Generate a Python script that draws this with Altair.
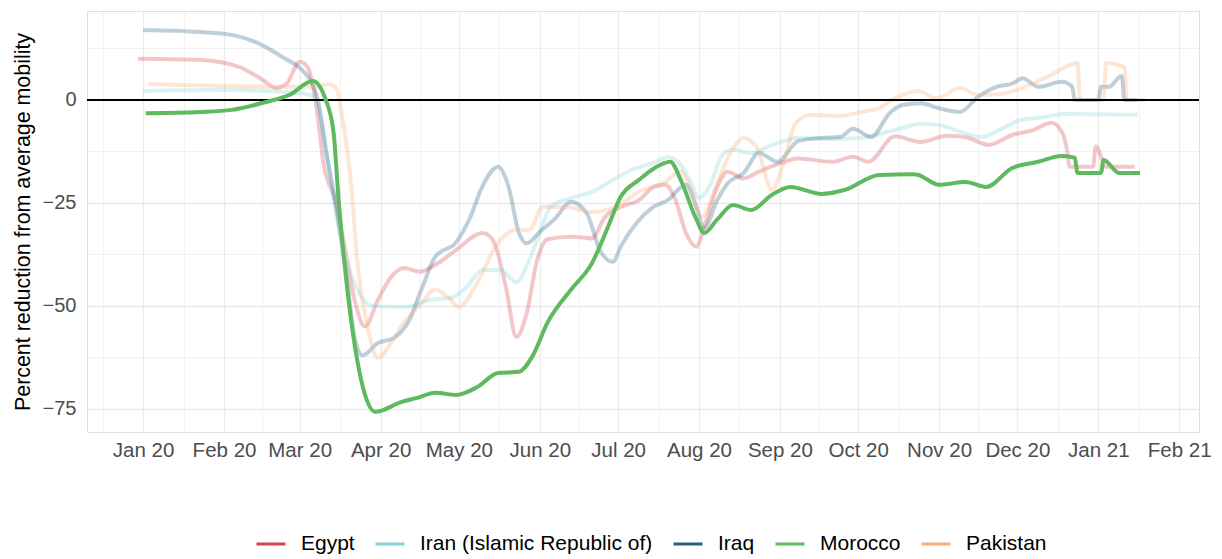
import altair as alt
import pandas as pd

countries = ["Egypt", "Iran (Islamic Republic of)", "Iraq", "Morocco", "Pakistan"]
colors = ["#D6454F", "#82D3DA", "#2C5F80", "#5EB95F", "#FCAD78"]

egypt_dates = ["2019-12-30", "2020-01-23", "2020-02-07", "2020-02-16", "2020-02-21", "2020-02-25",
               "2020-03-01", "2020-03-04", "2020-03-07", "2020-03-09", "2020-03-10", "2020-03-12",
               "2020-03-14", "2020-03-18", "2020-03-22", "2020-03-26", "2020-03-31", "2020-04-05",
               "2020-04-10", "2020-04-16", "2020-04-22", "2020-04-30", "2020-05-10", "2020-05-14",
               "2020-05-19", "2020-05-23", "2020-05-27", "2020-05-31", "2020-06-04", "2020-06-13",
               "2020-06-21", "2020-06-26", "2020-07-02", "2020-07-09", "2020-07-15", "2020-07-19",
               "2020-07-23", "2020-07-27", "2020-07-31", "2020-08-03", "2020-08-08", "2020-08-12",
               "2020-08-18", "2020-08-24", "2020-09-01", "2020-09-08", "2020-09-21", "2020-09-29",
               "2020-10-05", "2020-10-15", "2020-10-25", "2020-11-04", "2020-11-11", "2020-11-20",
               "2020-11-29", "2020-12-07", "2020-12-14", "2020-12-18", "2020-12-20", "2020-12-21",
               "2020-12-30", "2020-12-31", "2021-01-04", "2021-01-15"]
egypt_values = [10.0, 9.7, 8.0, 4.8, 2.9, 4.0,
                9.3, 8.0, 0.0, -9.7, -15.0, -20.0,
                -23.0, -34.8, -48.5, -55.0, -48.5, -43.0,
                -40.8, -41.7, -40.0, -36.4, -32.3, -34.0,
                -45.4, -57.5, -51.7, -38.8, -33.8, -33.2,
                -33.6, -28.4, -26.0, -24.3, -21.0, -20.6,
                -24.3, -32.3, -35.6, -30.8, -21.0, -17.4,
                -19.0, -17.4, -15.4, -14.2, -15.0, -13.8,
                -15.0, -8.8, -10.2, -8.7, -9.0, -10.9,
                -8.5, -7.3, -5.5, -7.7, -12.0, -16.2,
                -16.2, -11.3, -16.2, -16.2]

iran_dates = ["2020-01-01", "2020-02-01", "2020-03-01", "2020-03-06", "2020-03-09", "2020-03-12",
              "2020-03-15", "2020-03-19", "2020-03-23", "2020-03-28", "2020-04-05", "2020-04-11",
              "2020-04-20", "2020-04-28", "2020-05-04", "2020-05-10", "2020-05-17", "2020-05-23",
              "2020-05-28", "2020-06-02", "2020-06-05", "2020-06-13", "2020-06-21", "2020-06-29",
              "2020-07-06", "2020-07-14", "2020-07-20", "2020-07-24", "2020-07-29", "2020-08-01",
              "2020-08-05", "2020-08-10", "2020-08-14", "2020-08-21", "2020-08-29", "2020-09-08",
              "2020-09-20", "2020-10-02", "2020-10-15", "2020-10-25", "2020-11-01", "2020-11-09",
              "2020-11-17", "2020-11-24", "2020-12-02", "2020-12-12", "2020-12-18", "2021-01-16"]
iran_values = [2.2, 2.4, 1.7, 1.0, -4.0, -16.0,
               -28.0, -39.0, -46.0, -49.8, -50.2, -50.2,
               -48.5, -48.0, -45.4, -41.3, -41.3, -44.2,
               -38.8, -30.5, -26.0, -23.8, -22.3, -19.4,
               -17.0, -15.4, -13.9, -15.0, -20.2, -23.8,
               -21.0, -13.3, -12.1, -12.9, -10.9, -9.2,
               -9.5, -9.2, -7.3, -5.8, -6.1, -7.7,
               -9.0, -7.3, -4.9, -4.1, -3.4, -3.6]

iraq_dates = ["2020-01-01", "2020-01-23", "2020-02-04", "2020-02-14", "2020-02-24", "2020-03-01",
              "2020-03-05", "2020-03-08", "2020-03-11", "2020-03-15", "2020-03-19", "2020-03-22",
              "2020-03-25", "2020-03-31", "2020-04-06", "2020-04-12", "2020-04-17", "2020-04-22",
              "2020-04-30", "2020-05-05", "2020-05-10", "2020-05-16", "2020-05-20", "2020-05-24",
              "2020-05-27", "2020-06-01", "2020-06-07", "2020-06-13", "2020-06-19", "2020-06-24",
              "2020-06-29", "2020-07-02", "2020-07-08", "2020-07-14", "2020-07-20", "2020-07-27",
              "2020-07-31", "2020-08-03", "2020-08-08", "2020-08-12", "2020-08-18", "2020-08-24",
              "2020-08-31", "2020-09-08", "2020-09-17", "2020-09-24", "2020-09-29", "2020-10-06",
              "2020-10-13", "2020-10-18", "2020-10-25", "2020-11-01", "2020-11-09", "2020-11-16",
              "2020-11-23", "2020-11-29", "2020-12-03", "2020-12-09", "2020-12-18", "2020-12-22",
              "2020-12-23", "2021-01-01", "2021-01-02", "2021-01-05", "2021-01-10", "2021-01-11",
              "2021-01-16"]
iraq_values = [17.0, 16.5, 15.8, 13.8, 10.2, 7.8,
               4.8, 0.0, -12.0, -26.0, -43.0, -57.5,
               -62.0, -59.0, -57.8, -53.4, -45.4, -38.0,
               -34.5, -29.0, -21.0, -16.2, -21.0, -32.3,
               -34.8, -32.0, -28.7, -24.7, -27.5, -36.4,
               -39.3, -35.6, -29.9, -26.2, -24.3, -20.6,
               -26.0, -31.0, -24.3, -20.2, -17.8, -12.9,
               -15.0, -10.0, -9.2, -9.0, -7.0, -9.0,
               -3.2, -1.2, -0.8, -2.0, -2.9, 0.8,
               3.2, 4.0, 5.3, 3.2, 4.4, 3.2,
               0.0, 0.0, 3.2, 3.2, 5.8, 0.0,
               0.0]

morocco_dates = ["2020-01-02", "2020-01-23", "2020-02-04", "2020-02-17", "2020-02-26", "2020-03-06",
                 "2020-03-11", "2020-03-14", "2020-03-16", "2020-03-20", "2020-03-23", "2020-03-26",
                 "2020-03-30", "2020-04-09", "2020-04-15", "2020-04-22", "2020-04-30", "2020-05-08",
                 "2020-05-16", "2020-05-24", "2020-05-29", "2020-06-04", "2020-06-13", "2020-06-21",
                 "2020-06-27", "2020-07-02", "2020-07-09", "2020-07-15", "2020-07-21", "2020-07-25",
                 "2020-07-31", "2020-08-03", "2020-08-08", "2020-08-14", "2020-08-21", "2020-08-29",
                 "2020-09-05", "2020-09-17", "2020-09-26", "2020-10-09", "2020-10-22", "2020-10-24",
                 "2020-11-01", "2020-11-11", "2020-11-19", "2020-11-29", "2020-12-09", "2020-12-18",
                 "2020-12-23", "2020-12-24", "2021-01-02", "2021-01-03", "2021-01-09", "2021-01-17"]
morocco_values = [-3.2, -2.9, -2.4, -0.5, 1.2, 4.6,
                  0.0, -8.0, -25.0, -50.0, -63.0, -71.5,
                  -75.7, -73.3, -72.3, -71.1, -71.6, -69.7,
                  -66.3, -66.0, -62.4, -54.0, -46.0, -39.6,
                  -31.0, -23.5, -19.4, -16.5, -15.0, -19.4,
                  -29.0, -32.3, -29.0, -25.5, -26.7, -23.0,
                  -21.1, -22.8, -21.8, -18.2, -18.0, -18.2,
                  -20.6, -19.9, -21.1, -16.5, -15.0, -13.6,
                  -14.0, -17.7, -17.7, -14.6, -17.7, -17.7]

pakistan_dates = ["2020-01-03", "2020-02-27", "2020-03-06", "2020-03-12", "2020-03-15", "2020-03-17",
                  "2020-03-21", "2020-03-23", "2020-03-27", "2020-03-31", "2020-04-05", "2020-04-10",
                  "2020-04-16", "2020-04-22", "2020-04-27", "2020-05-01", "2020-05-08", "2020-05-15",
                  "2020-05-23", "2020-05-28", "2020-06-02", "2020-06-11", "2020-06-21", "2020-06-30",
                  "2020-07-09", "2020-07-19", "2020-07-25", "2020-07-29", "2020-08-02", "2020-08-08",
                  "2020-08-12", "2020-08-18", "2020-08-23", "2020-08-29", "2020-09-02", "2020-09-07",
                  "2020-09-13", "2020-09-24", "2020-10-02", "2020-10-09", "2020-10-15", "2020-10-24",
                  "2020-10-31", "2020-11-09", "2020-11-16", "2020-11-24", "2020-12-04", "2020-12-14",
                  "2020-12-24", "2020-12-25", "2021-01-03", "2021-01-04", "2021-01-11", "2021-01-12",
                  "2021-01-19"]
pakistan_values = [3.9, 3.2, 3.2, 3.8, 2.9, -3.0,
                   -22.6, -38.8, -55.0, -62.6, -59.0, -54.0,
                   -49.8, -46.0, -48.0, -50.2, -44.4, -35.6,
                   -31.5, -31.5, -26.0, -26.0, -27.2, -26.0,
                   -22.3, -19.9, -17.4, -21.8, -28.4, -20.2,
                   -14.2, -9.2, -11.3, -21.8, -16.2, -5.7,
                   -3.6, -3.9, -2.9, -2.0, 0.4, 2.2,
                   0.4, 2.9, 1.2, 1.4, 3.2, 6.1,
                   9.0, 0.0, 0.0, 9.0, 8.0, 0.0,
                   0.0]

month_breaks = ["2020-01-01", "2020-02-01", "2020-03-01", "2020-04-01", "2020-05-01", "2020-06-01",
                "2020-07-01", "2020-08-01", "2020-09-01", "2020-10-01", "2020-11-01", "2020-12-01",
                "2021-01-01", "2021-02-01"]
y_ticks = [-75, -62.5, -50, -37.5, -25, -12.5, 0, 12.5]


def ms(s):
    return int(pd.Timestamp(s, tz="UTC").value // 10**6)


# major breaks at month starts, minor breaks halfway between them
major_ms = [ms(d) for d in ["2019-12-01"] + month_breaks + ["2021-03-01"]]
minor_ms = [(a + b) // 2 for a, b in zip(major_ms[:-1], major_ms[1:])]
x_ticks = sorted(major_ms[1:-1] + minor_ms)

rows = []
for name, ds, vs in [("Egypt", egypt_dates, egypt_values),
                     ("Iran (Islamic Republic of)", iran_dates, iran_values),
                     ("Iraq", iraq_dates, iraq_values),
                     ("Morocco", morocco_dates, morocco_values),
                     ("Pakistan", pakistan_dates, pakistan_values)]:
    for d, v in zip(ds, vs):
        rows.append({"country": name, "date": d, "value": v})
df = pd.DataFrame(rows)
faded = df[df.country != "Morocco"]
focus = df[df.country == "Morocco"]

FONT = "Liberation Sans"

x_enc = alt.X(
    "date:T",
    title=None,
    scale=alt.Scale(type="utc", domain=[ms("2019-12-10T12:00"), ms("2021-02-08T14:00")], nice=False),
    axis=alt.Axis(
        values=x_ticks,
        labelExpr="utcdate(datum.value) == 1 ? utcFormat(datum.value, '%b %y') : ''",
        ticks=False, domain=False, labelPadding=8, labelFontSize=20.5, labelColor="#4D4D4D",
        labelFont=FONT, labelOverlap=False,
        gridColor="#EBEBEB",
        gridWidth={"condition": {"test": "utcdate(datum.value) == 1", "value": 1.3}, "value": 0.7},
    ),
)
y_enc = alt.Y(
    "value:Q",
    title="Percent reduction from average mobility",
    scale=alt.Scale(domain=[-80.6, 21.6], nice=False, zero=False),
    axis=alt.Axis(
        values=y_ticks,
        labelExpr="datum.value % 25 == 0 ? format(datum.value, 'd') : ''",
        ticks=False, domain=False, labelPadding=11, labelFontSize=20, labelColor="#4D4D4D",
        labelFont=FONT, titleFont=FONT, titleFontSize=21.4, titleFontWeight="normal",
        titleColor="#000000", titleX=-58, titleBaseline="alphabetic",
        gridColor="#EBEBEB",
        gridWidth={"condition": {"test": "datum.value % 25 == 0", "value": 1.3}, "value": 0.7},
    ),
)
color_enc = alt.Color(
    "country:N",
    title=None,
    scale=alt.Scale(domain=countries, range=colors),
    legend=alt.Legend(
        orient="none", direction="horizontal", legendX=168, legendY=517,
        symbolType="stroke", symbolSize=841, symbolStrokeWidth=3, symbolOpacity=1,
        labelFont=FONT, labelFontSize=21, labelColor="#000000", labelOffset=14,
        labelLimit=600, columnPadding=14,
    ),
)

lines_faded = alt.Chart(faded).mark_line(
    interpolate="monotone", strokeWidth=4, opacity=0.3
).encode(x=x_enc, y=y_enc, color=color_enc, detail="country:N")

zero = alt.Chart(pd.DataFrame({"value": [0]})).mark_rule(color="#000000", strokeWidth=2).encode(
    y=alt.Y("value:Q")
)

line_focus = alt.Chart(focus).mark_line(
    interpolate="monotone", strokeWidth=4, opacity=1
).encode(x=x_enc, y=y_enc, color=color_enc)

chart = alt.layer(lines_faded, zero, line_focus).properties(
    width=1112, height=421,
    autosize=alt.AutoSizeParams(type="none"),
    padding={"left": 79, "top": 3, "right": 15, "bottom": 127},
).configure_view(stroke=None).configure(background="#FFFFFF")

chart.save("out.html", embed_options={"renderer": "svg", "actions": False})
